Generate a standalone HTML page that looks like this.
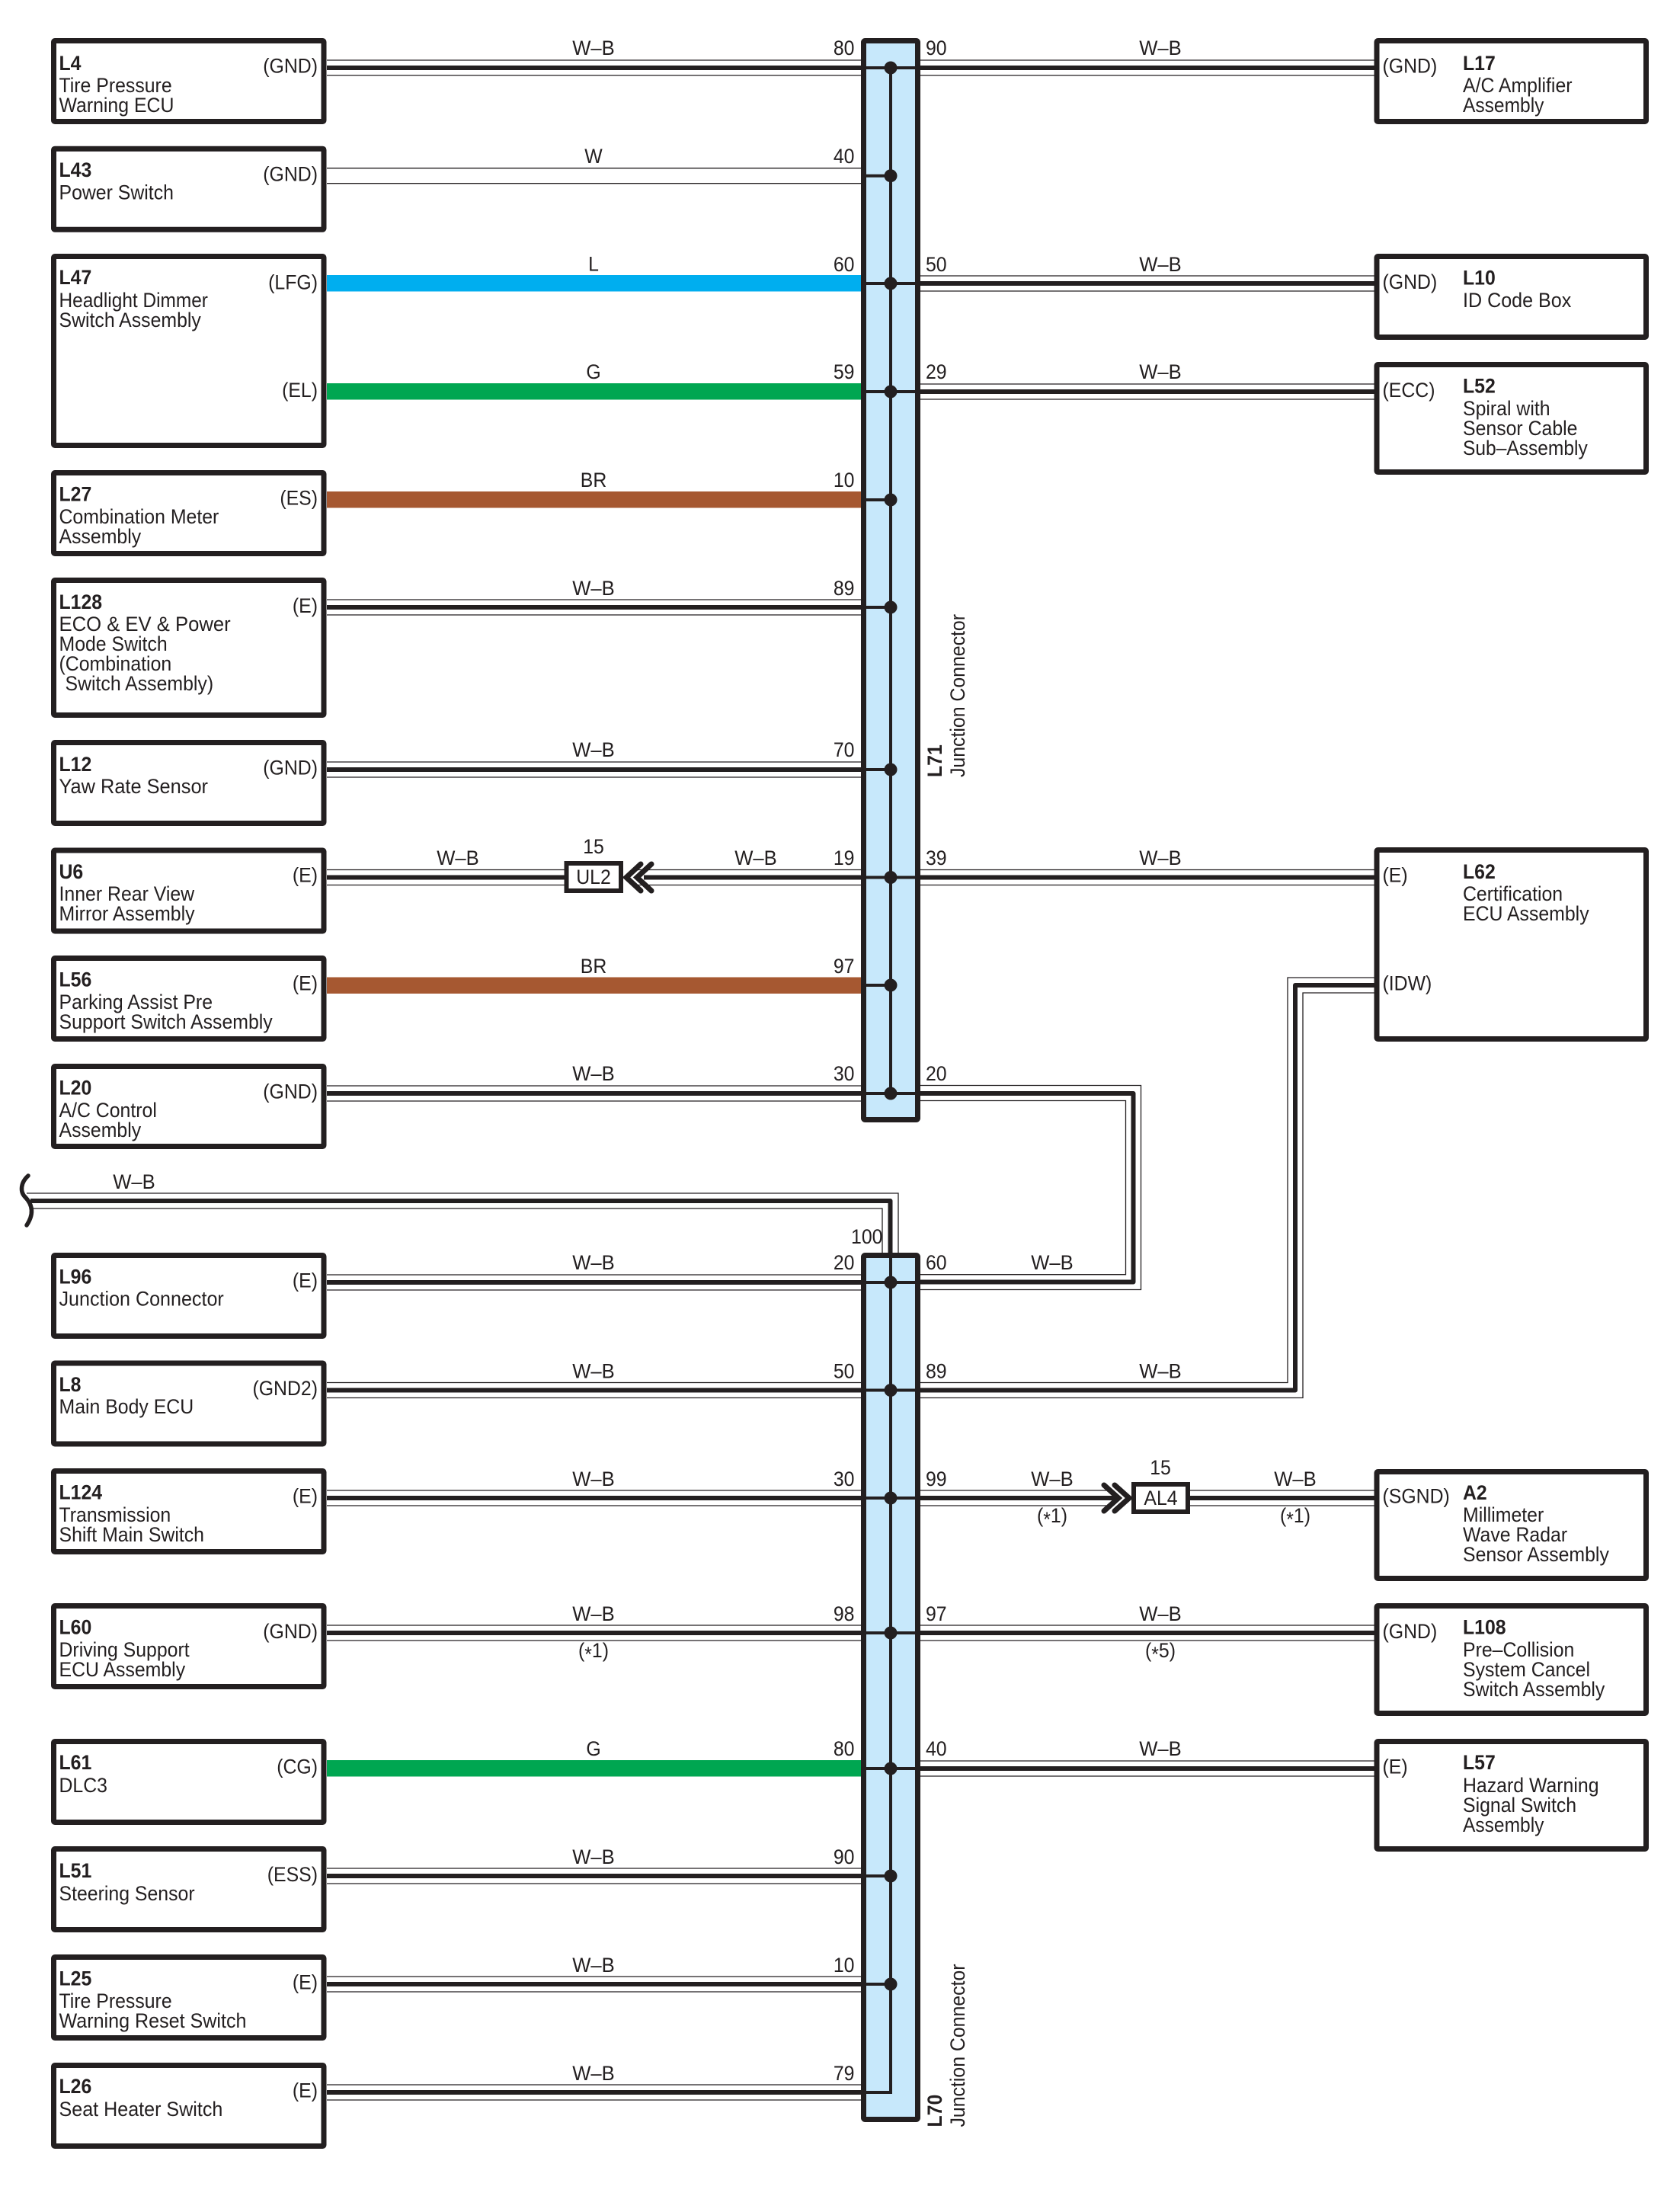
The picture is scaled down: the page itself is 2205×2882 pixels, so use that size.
<!DOCTYPE html>
<html><head><meta charset="utf-8"><style>
html,body{margin:0;padding:0;background:#fff}
svg{display:block}
text{font-family:"Liberation Sans",sans-serif;font-size:27px;fill:#231f20}
.b{font-weight:bold}.m{text-anchor:middle}.e{text-anchor:end}
.box{fill:#fff;stroke:#231f20;stroke-width:7}
.thin{fill:none;stroke:#231f20;stroke-width:1.3}
.thick{fill:none;stroke:#231f20;stroke-width:6;stroke-linejoin:round}
.inner{fill:none;stroke:#231f20;stroke-width:4}
.conn{fill:#c7e8fb;stroke:#231f20;stroke-width:7}
</style></head><body>
<svg xmlns="http://www.w3.org/2000/svg" width="2205" height="2882" viewBox="0 0 2205 2882">
<rect width="2205" height="2882" fill="#fff"/>

<!-- junction connectors -->
<rect class="conn" x="1133.5" y="53.5" width="71" height="1416" rx="2"/>
<rect class="conn" x="1133.5" y="1647.5" width="71" height="1134" rx="2"/>

<!-- coloured wires -->
<rect x="429" y="361" width="701" height="21.5" fill="#00aeef"/>
<rect x="429" y="503" width="701" height="21.5" fill="#00a651"/>
<rect x="429" y="645" width="701" height="21.5" fill="#a65831"/>
<rect x="429" y="1282.5" width="701" height="21.5" fill="#a65831"/>
<rect x="429" y="2310" width="701" height="21.5" fill="#00a651"/>

<!-- thin wire edges, left -->
<path class="thin" d="M429 79H1130M429 99H1130
M429 220.7H1130M429 240.7H1130
M429 787H1130M429 807H1130
M429 1000H1130M429 1020H1130
M429 1141.5H741M429 1161.5H741M830 1141.5H1130M830 1161.5H1130
M429 1425H1130M429 1445H1130
M429 1673H1130M429 1693H1130
M429 1814.5H1130M429 1834.5H1130
M429 1956H1130M429 1976H1130
M429 2133H1130M429 2153H1130
M429 2452H1130M429 2472H1130
M429 2594H1130M429 2614H1130
M429 2736H1130M429 2756H1130"/>
<!-- thin wire edges, right -->
<path class="thin" d="M1208 79H1804M1208 99H1804
M1208 362H1804M1208 382H1804
M1208 504H1804M1208 524H1804
M1208 1141.5H1804M1208 1161.5H1804
M1208 1956H1460M1208 1976H1460M1562 1956H1804M1562 1976H1804
M1208 2133H1804M1208 2153H1804
M1208 2311H1804M1208 2331H1804
M1208 1424.5H1497.5V1692.5H1208
M1208 1444.5H1477.5V1672.7H1208
M1208 1814.5H1690V1283H1804
M1208 1834.5H1710V1303H1804
M35 1566H1179V1644
M43 1586H1158V1644"/>
<!-- thick wire centres -->
<path class="thick" d="M429 89H1130
M429 797H1130
M429 1010H1130
M429 1151.5H741M845 1151.5H1130
M429 1435H1130
M429 1683H1130
M429 1824.5H1130
M429 1966H1130
M429 2143H1130
M429 2462H1130
M429 2604H1130
M429 2746H1130
M1208 89H1804
M1208 372H1804
M1208 514H1804
M1208 1151.5H1804
M1208 1966H1465M1562 1966H1804
M1208 2143H1804
M1208 2321H1804
M1208 1435H1487.5V1682.5H1208
M1208 1824.5H1700V1293H1804
M40 1576H1168.5V1650"/>
<path d="M37 1543C27 1552 26 1564 33 1571C40 1578 47 1590 35 1608" fill="none" stroke="#231f20" stroke-width="5.5" stroke-linecap="round"/>

<!-- inside connectors -->
<path class="inner" d="M1169 89V1435M1169 1648V2748
M1134 89H1204M1134 230.7H1169M1134 372H1204M1134 514H1204M1134 656H1169M1134 797H1169M1134 1010H1169M1134 1151.5H1204M1134 1293H1169M1134 1435H1204
M1134 1683H1204M1134 1824.5H1204M1134 1966H1204M1134 2143H1204M1134 2321H1204M1134 2462H1169M1134 2604H1169M1134 2746H1171"/>
<g fill="#231f20">
<circle cx="1169" cy="89" r="8.5"/><circle cx="1169" cy="230.7" r="8.5"/><circle cx="1169" cy="372" r="8.5"/><circle cx="1169" cy="514" r="8.5"/><circle cx="1169" cy="656" r="8.5"/><circle cx="1169" cy="797" r="8.5"/><circle cx="1169" cy="1010" r="8.5"/><circle cx="1169" cy="1151.5" r="8.5"/><circle cx="1169" cy="1293" r="8.5"/><circle cx="1169" cy="1435" r="8.5"/>
<circle cx="1169" cy="1683" r="8.5"/><circle cx="1169" cy="1824.5" r="8.5"/><circle cx="1169" cy="1966" r="8.5"/><circle cx="1169" cy="2143" r="8.5"/><circle cx="1169" cy="2321" r="8.5"/><circle cx="1169" cy="2462" r="8.5"/><circle cx="1169" cy="2604" r="8.5"/>
</g>

<!-- inline connectors -->
<rect class="box" x="743.5" y="1133" width="71.5" height="36" style="stroke-width:6"/>
<path d="M841 1134L822 1151.5L841 1169M855 1134L836 1151.5L855 1169" fill="none" stroke="#231f20" stroke-width="7" stroke-linecap="round"/>
<rect class="box" x="1488" y="1948" width="71" height="36" style="stroke-width:6"/>
<path d="M1449 1949L1468 1966L1449 1983M1463 1949L1482 1966L1463 1983" fill="none" stroke="#231f20" stroke-width="7" stroke-linecap="round"/>

<!-- left boxes -->
<rect class="box" x="70.5" y="53.5" width="354.5" height="106" rx="1.5"/>
<rect class="box" x="70.5" y="195.2" width="354.5" height="106" rx="1.5"/>
<rect class="box" x="70.5" y="336.5" width="354.5" height="248" rx="1.5"/>
<rect class="box" x="70.5" y="620.5" width="354.5" height="106" rx="1.5"/>
<rect class="box" x="70.5" y="761.5" width="354.5" height="177" rx="1.5"/>
<rect class="box" x="70.5" y="974.5" width="354.5" height="106" rx="1.5"/>
<rect class="box" x="70.5" y="1116" width="354.5" height="106" rx="1.5"/>
<rect class="box" x="70.5" y="1257.5" width="354.5" height="106" rx="1.5"/>
<rect class="box" x="70.5" y="1399.5" width="354.5" height="105" rx="1.5"/>
<rect class="box" x="70.5" y="1647.5" width="354.5" height="106" rx="1.5"/>
<rect class="box" x="70.5" y="1789" width="354.5" height="106" rx="1.5"/>
<rect class="box" x="70.5" y="1930.5" width="354.5" height="106" rx="1.5"/>
<rect class="box" x="70.5" y="2107.5" width="354.5" height="106" rx="1.5"/>
<rect class="box" x="70.5" y="2285.5" width="354.5" height="106" rx="1.5"/>
<rect class="box" x="70.5" y="2426.5" width="354.5" height="106" rx="1.5"/>
<rect class="box" x="70.5" y="2568.5" width="354.5" height="106" rx="1.5"/>
<rect class="box" x="70.5" y="2710.5" width="354.5" height="106" rx="1.5"/>
<!-- right boxes -->
<rect class="box" x="1807" y="53.5" width="353.5" height="106" rx="1.5"/>
<rect class="box" x="1807" y="336.5" width="353.5" height="106" rx="1.5"/>
<rect class="box" x="1807" y="478.5" width="353.5" height="141" rx="1.5"/>
<rect class="box" x="1807" y="1115.5" width="353.5" height="248" rx="1.5"/>
<rect class="box" x="1807" y="1931.5" width="353.5" height="140" rx="1.5"/>
<rect class="box" x="1807" y="2107.5" width="353.5" height="141" rx="1.5"/>
<rect class="box" x="1807" y="2285.5" width="353.5" height="141" rx="1.5"/>

<!-- left box text -->
<text class="b" transform="matrix(.92 0 0 1 77.5 92)">L4</text>
<text transform="matrix(.92 0 0 1 77.5 121)">Tire Pressure</text>
<text transform="matrix(.92 0 0 1 77.5 147)">Warning ECU</text>
<text class="e" transform="matrix(.92 0 0 1 417 95.5)">(GND)</text>

<text class="b" transform="matrix(.92 0 0 1 77.5 232)">L43</text>
<text transform="matrix(.92 0 0 1 77.5 261.5)">Power Switch</text>
<text class="e" transform="matrix(.92 0 0 1 417 237.5)">(GND)</text>

<text class="b" transform="matrix(.92 0 0 1 77.5 373)">L47</text>
<text transform="matrix(.905 0 0 1 77.5 403)">Headlight Dimmer</text>
<text transform="matrix(.92 0 0 1 77.5 429)">Switch Assembly</text>
<text class="e" transform="matrix(.92 0 0 1 417 379.5)">(LFG)</text>
<text class="e" transform="matrix(.92 0 0 1 417 521)">(EL)</text>

<text class="b" transform="matrix(.92 0 0 1 77.5 657.5)">L27</text>
<text transform="matrix(.92 0 0 1 77.5 687)">Combination Meter</text>
<text transform="matrix(.92 0 0 1 77.5 713)">Assembly</text>
<text class="e" transform="matrix(.92 0 0 1 417 662.5)">(ES)</text>

<text class="b" transform="matrix(.92 0 0 1 77.5 799)">L128</text>
<text transform="matrix(.95 0 0 1 77.5 828)">ECO &amp; EV &amp; Power</text>
<text transform="matrix(.92 0 0 1 77.5 854)">Mode Switch</text>
<text transform="matrix(.92 0 0 1 77.5 880)">(Combination</text>
<text transform="matrix(.92 0 0 1 85.5 906)">Switch Assembly)</text>
<text class="e" transform="matrix(.92 0 0 1 417 804)">(E)</text>

<text class="b" transform="matrix(.92 0 0 1 77.5 1012)">L12</text>
<text transform="matrix(.94 0 0 1 77.5 1041)">Yaw Rate Sensor</text>
<text class="e" transform="matrix(.92 0 0 1 417 1016.5)">(GND)</text>

<text class="b" transform="matrix(.92 0 0 1 77.5 1153)">U6</text>
<text transform="matrix(.92 0 0 1 77.5 1182)">Inner Rear View</text>
<text transform="matrix(.92 0 0 1 77.5 1208)">Mirror Assembly</text>
<text class="e" transform="matrix(.92 0 0 1 417 1157.5)">(E)</text>

<text class="b" transform="matrix(.92 0 0 1 77.5 1294.5)">L56</text>
<text transform="matrix(.92 0 0 1 77.5 1324)">Parking Assist Pre</text>
<text transform="matrix(.92 0 0 1 77.5 1350)">Support Switch Assembly</text>
<text class="e" transform="matrix(.92 0 0 1 417 1299.5)">(E)</text>

<text class="b" transform="matrix(.92 0 0 1 77.5 1436.5)">L20</text>
<text transform="matrix(.92 0 0 1 77.5 1466)">A/C Control</text>
<text transform="matrix(.92 0 0 1 77.5 1492)">Assembly</text>
<text class="e" transform="matrix(.92 0 0 1 417 1441.5)">(GND)</text>

<text class="b" transform="matrix(.92 0 0 1 77.5 1684.5)">L96</text>
<text transform="matrix(.93 0 0 1 77.5 1713.5)">Junction Connector</text>
<text class="e" transform="matrix(.92 0 0 1 417 1689.5)">(E)</text>

<text class="b" transform="matrix(.92 0 0 1 77.5 1826)">L8</text>
<text transform="matrix(.92 0 0 1 77.5 1855)">Main Body ECU</text>
<text class="e" transform="matrix(.92 0 0 1 417 1831)">(GND2)</text>

<text class="b" transform="matrix(.92 0 0 1 77.5 1967.5)">L124</text>
<text transform="matrix(.92 0 0 1 77.5 1997)">Transmission</text>
<text transform="matrix(.92 0 0 1 77.5 2023)">Shift Main Switch</text>
<text class="e" transform="matrix(.92 0 0 1 417 1972.5)">(E)</text>

<text class="b" transform="matrix(.92 0 0 1 77.5 2144.5)">L60</text>
<text transform="matrix(.92 0 0 1 77.5 2174)">Driving Support</text>
<text transform="matrix(.92 0 0 1 77.5 2200)">ECU Assembly</text>
<text class="e" transform="matrix(.92 0 0 1 417 2150)">(GND)</text>

<text class="b" transform="matrix(.92 0 0 1 77.5 2322)">L61</text>
<text transform="matrix(.92 0 0 1 77.5 2352)">DLC3</text>
<text class="e" transform="matrix(.92 0 0 1 417 2327.5)">(CG)</text>

<text class="b" transform="matrix(.92 0 0 1 77.5 2464)">L51</text>
<text transform="matrix(.92 0 0 1 77.5 2494)">Steering Sensor</text>
<text class="e" transform="matrix(.92 0 0 1 417 2469)">(ESS)</text>

<text class="b" transform="matrix(.92 0 0 1 77.5 2605.5)">L25</text>
<text transform="matrix(.92 0 0 1 77.5 2635)">Tire Pressure</text>
<text transform="matrix(.93 0 0 1 77.5 2661)">Warning Reset Switch</text>
<text class="e" transform="matrix(.92 0 0 1 417 2610.5)">(E)</text>

<text class="b" transform="matrix(.92 0 0 1 77.5 2747)">L26</text>
<text transform="matrix(.93 0 0 1 77.5 2777)">Seat Heater Switch</text>
<text class="e" transform="matrix(.92 0 0 1 417 2752.5)">(E)</text>

<!-- right box text -->
<text transform="matrix(.92 0 0 1 1814.5 95.5)">(GND)</text>
<text class="b" transform="matrix(.92 0 0 1 1920 92)">L17</text>
<text transform="matrix(.92 0 0 1 1920 121)">A/C Amplifier</text>
<text transform="matrix(.91 0 0 1 1920 147)">Assembly</text>

<text transform="matrix(.92 0 0 1 1814.5 379)">(GND)</text>
<text class="b" transform="matrix(.92 0 0 1 1920 373.5)">L10</text>
<text transform="matrix(.93 0 0 1 1920 403)">ID Code Box</text>

<text transform="matrix(.92 0 0 1 1814.5 521)">(ECC)</text>
<text class="b" transform="matrix(.92 0 0 1 1920 515.5)">L52</text>
<text transform="matrix(.92 0 0 1 1920 545)">Spiral with</text>
<text transform="matrix(.92 0 0 1 1920 571)">Sensor Cable</text>
<text transform="matrix(.91 0 0 1 1920 597)">Sub–Assembly</text>

<text transform="matrix(.92 0 0 1 1814.5 1157.5)">(E)</text>
<text transform="matrix(.92 0 0 1 1814.5 1299.5)">(IDW)</text>
<text class="b" transform="matrix(.92 0 0 1 1920 1153)">L62</text>
<text transform="matrix(.92 0 0 1 1920 1182)">Certification</text>
<text transform="matrix(.92 0 0 1 1920 1208)">ECU Assembly</text>

<text transform="matrix(.92 0 0 1 1814.5 1972.5)">(SGND)</text>
<text class="b" transform="matrix(.92 0 0 1 1920 1968)">A2</text>
<text transform="matrix(.92 0 0 1 1920 1997)">Millimeter</text>
<text transform="matrix(.92 0 0 1 1920 2023)">Wave Radar</text>
<text transform="matrix(.92 0 0 1 1920 2049)">Sensor Assembly</text>

<text transform="matrix(.92 0 0 1 1814.5 2150)">(GND)</text>
<text class="b" transform="matrix(.92 0 0 1 1920 2144.5)">L108</text>
<text transform="matrix(.92 0 0 1 1920 2174)">Pre–Collision</text>
<text transform="matrix(.92 0 0 1 1920 2200)">System Cancel</text>
<text transform="matrix(.92 0 0 1 1920 2226)">Switch Assembly</text>

<text transform="matrix(.92 0 0 1 1814.5 2327.5)">(E)</text>
<text class="b" transform="matrix(.92 0 0 1 1920 2322)">L57</text>
<text transform="matrix(.92 0 0 1 1920 2352)">Hazard Warning</text>
<text transform="matrix(.92 0 0 1 1920 2378)">Signal Switch</text>
<text transform="matrix(.91 0 0 1 1920 2404)">Assembly</text>

<!-- wire labels, left side -->
<text class="m" transform="matrix(.95 0 0 1 779 72)">W–B</text>
<text class="m" transform="matrix(.92 0 0 1 779 214)">W</text>
<text class="m" transform="matrix(.92 0 0 1 779 355.5)">L</text>
<text class="m" transform="matrix(.92 0 0 1 779 497)">G</text>
<text class="m" transform="matrix(.92 0 0 1 779 639)">BR</text>
<text class="m" transform="matrix(.95 0 0 1 779 781)">W–B</text>
<text class="m" transform="matrix(.95 0 0 1 779 993)">W–B</text>
<text class="m" transform="matrix(.95 0 0 1 601 1135)">W–B</text>
<text class="m" transform="matrix(.95 0 0 1 992 1135)">W–B</text>
<text class="m" transform="matrix(.92 0 0 1 779 1277)">BR</text>
<text class="m" transform="matrix(.95 0 0 1 779 1418)">W–B</text>
<text class="m" transform="matrix(.95 0 0 1 176 1560)">W–B</text>
<text class="m" transform="matrix(.95 0 0 1 779 1666)">W–B</text>
<text class="m" transform="matrix(.95 0 0 1 779 1808.5)">W–B</text>
<text class="m" transform="matrix(.95 0 0 1 779 1950)">W–B</text>
<text class="m" transform="matrix(.95 0 0 1 779 2127)">W–B</text>
<text class="m" transform="matrix(.92 0 0 1 779 2304)">G</text>
<text class="m" transform="matrix(.95 0 0 1 779 2446)">W–B</text>
<text class="m" transform="matrix(.95 0 0 1 779 2588)">W–B</text>
<text class="m" transform="matrix(.95 0 0 1 779 2730)">W–B</text>
<text class="m" transform="matrix(.92 0 0 1 779 2175)">(<tspan dy="5">*</tspan><tspan dy="-5">1)</tspan></text>
<!-- wire labels, right side -->
<text class="m" transform="matrix(.95 0 0 1 1523 72)">W–B</text>
<text class="m" transform="matrix(.95 0 0 1 1523 356)">W–B</text>
<text class="m" transform="matrix(.95 0 0 1 1523 497)">W–B</text>
<text class="m" transform="matrix(.95 0 0 1 1523 1135)">W–B</text>
<text class="m" transform="matrix(.95 0 0 1 1381 1666)">W–B</text>
<text class="m" transform="matrix(.95 0 0 1 1523 1808.5)">W–B</text>
<text class="m" transform="matrix(.95 0 0 1 1381 1950)">W–B</text>
<text class="m" transform="matrix(.95 0 0 1 1700 1950)">W–B</text>
<text class="m" transform="matrix(.92 0 0 1 1381 1998)">(<tspan dy="5">*</tspan><tspan dy="-5">1)</tspan></text>
<text class="m" transform="matrix(.92 0 0 1 1700 1998)">(<tspan dy="5">*</tspan><tspan dy="-5">1)</tspan></text>
<text class="m" transform="matrix(.95 0 0 1 1523 2127)">W–B</text>
<text class="m" transform="matrix(.92 0 0 1 1523 2175)">(<tspan dy="5">*</tspan><tspan dy="-5">5)</tspan></text>
<text class="m" transform="matrix(.95 0 0 1 1523 2304)">W–B</text>
<!-- inline connector labels -->
<text class="m" transform="matrix(.92 0 0 1 779 1120)">15</text>
<text class="m" transform="matrix(.92 0 0 1 779 1160)">UL2</text>
<text class="m" transform="matrix(.92 0 0 1 1523 1935)">15</text>
<text class="m" transform="matrix(.92 0 0 1 1523.5 1975)">AL4</text>

<!-- pin numbers left -->
<text class="e" transform="matrix(.92 0 0 1 1121.5 72)">80</text>
<text class="e" transform="matrix(.92 0 0 1 1121.5 214)">40</text>
<text class="e" transform="matrix(.92 0 0 1 1121.5 356)">60</text>
<text class="e" transform="matrix(.92 0 0 1 1121.5 497)">59</text>
<text class="e" transform="matrix(.92 0 0 1 1121.5 639)">10</text>
<text class="e" transform="matrix(.92 0 0 1 1121.5 781)">89</text>
<text class="e" transform="matrix(.92 0 0 1 1121.5 993)">70</text>
<text class="e" transform="matrix(.92 0 0 1 1121.5 1135)">19</text>
<text class="e" transform="matrix(.92 0 0 1 1121.5 1277)">97</text>
<text class="e" transform="matrix(.92 0 0 1 1121.5 1418)">30</text>
<text class="e" transform="matrix(.92 0 0 1 1158.5 1632)">100</text>
<text class="e" transform="matrix(.92 0 0 1 1121.5 1666)">20</text>
<text class="e" transform="matrix(.92 0 0 1 1121.5 1808.5)">50</text>
<text class="e" transform="matrix(.92 0 0 1 1121.5 1950)">30</text>
<text class="e" transform="matrix(.92 0 0 1 1121.5 2127)">98</text>
<text class="e" transform="matrix(.92 0 0 1 1121.5 2304)">80</text>
<text class="e" transform="matrix(.92 0 0 1 1121.5 2446)">90</text>
<text class="e" transform="matrix(.92 0 0 1 1121.5 2588)">10</text>
<text class="e" transform="matrix(.92 0 0 1 1121.5 2730)">79</text>
<!-- pin numbers right -->
<text transform="matrix(.92 0 0 1 1215 72)">90</text>
<text transform="matrix(.92 0 0 1 1215 356)">50</text>
<text transform="matrix(.92 0 0 1 1215 497)">29</text>
<text transform="matrix(.92 0 0 1 1215 1135)">39</text>
<text transform="matrix(.92 0 0 1 1215 1418)">20</text>
<text transform="matrix(.92 0 0 1 1215 1666)">60</text>
<text transform="matrix(.92 0 0 1 1215 1808.5)">89</text>
<text transform="matrix(.92 0 0 1 1215 1950)">99</text>
<text transform="matrix(.92 0 0 1 1215 2127)">97</text>
<text transform="matrix(.92 0 0 1 1215 2304)">40</text>

<!-- rotated connector labels -->
<text class="b" transform="matrix(0 -.92 1 0 1236 1020)">L71</text>
<text transform="matrix(0 -.92 1 0 1266 1020)">Junction Connector</text>
<text class="b" transform="matrix(0 -.92 1 0 1236 2791.5)">L70</text>
<text transform="matrix(0 -.92 1 0 1266 2791.5)">Junction Connector</text>
</svg>
</body></html>
